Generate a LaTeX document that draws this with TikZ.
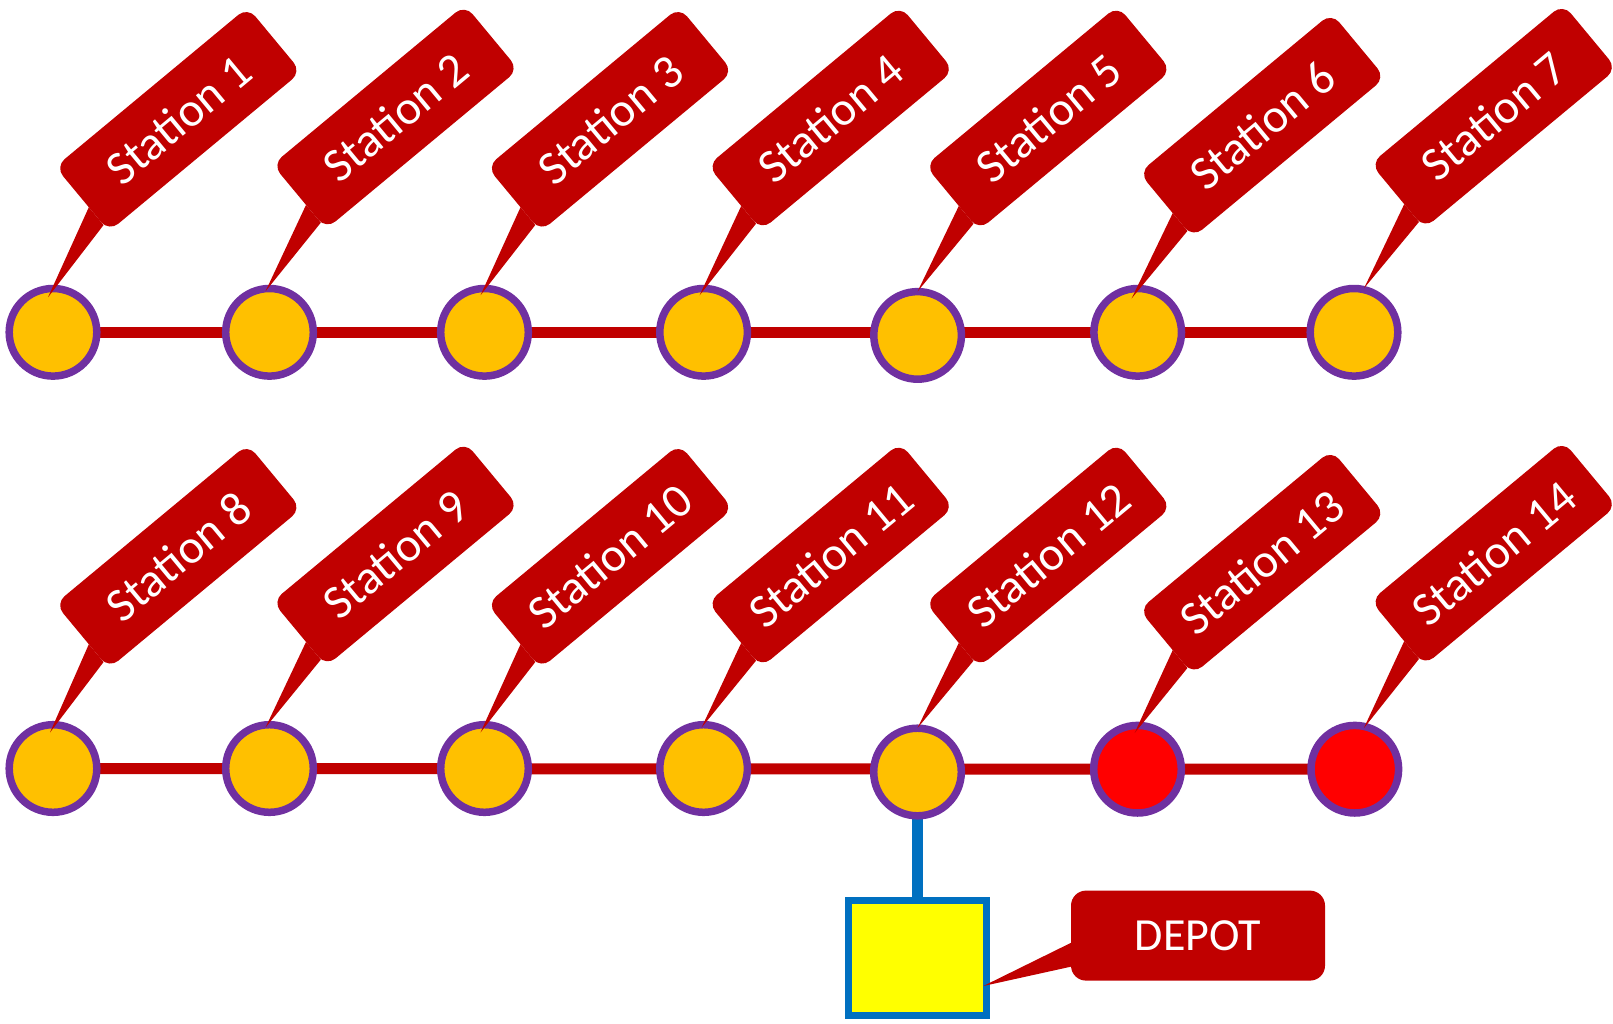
\documentclass[tikz,border=0pt]{standalone}
\usepackage{fontspec}
\setmainfont{Carlito}
\usetikzlibrary{calc,backgrounds}

\definecolor{calloutred}{HTML}{C00000}
\definecolor{ringpurple}{HTML}{7030A0}
\definecolor{stationamber}{HTML}{FFC000}
\definecolor{alertred}{HTML}{FF0000}
\definecolor{depotblue}{HTML}{0070C0}
\definecolor{depotyellow}{HTML}{FFFF00}

\begin{document}
\begin{tikzpicture}[x=1pt,y=1pt,
  station/.style={circle, draw=ringpurple, fill=stationamber, line width=7.5pt,
    minimum size=87.6pt, inner sep=0pt, outer sep=0pt},
  alert/.style={station, fill=alertred},
  labelbox/.style={fill=calloutred, text=white, inner sep=0pt, outer sep=0pt},
  callout/.style={labelbox, rotate=39.7, rounded corners=12pt,
    minimum width=250pt, minimum height=84pt, font=\fontsize{48}{56}\selectfont},
  depotlabel/.style={labelbox, rounded corners=15pt,
    minimum width=254pt, minimum height=90pt, font=\fontsize{46}{54}\selectfont},
  tail/.style={fill=calloutred},
  railway/.style={draw=calloutred, line width=11pt},
  spur/.style={draw=depotblue, line width=11pt},
  depotbox/.style={rectangle, draw=depotblue, fill=depotyellow, line width=7.3pt,
    minimum width=137.6pt, minimum height=115pt, inner sep=0pt, outer sep=0pt}
]
\useasboundingbox (0,0) rectangle (1613,-1023);

% stations of both lines
\foreach \i/\kind/\x/\y in {
  1/station/53/332.3, 2/station/269.5/332.3, 3/station/484.5/332.3,
  4/station/703.6/332.3, 5/station/917.6/335.4, 6/station/1137.7/332.3,
  7/station/1354/332.3,
  8/station/53/768.5, 9/station/269.5/768.5, 10/station/484.5/768.5,
  11/station/703.6/768.5, 12/station/917.5/772, 13/alert/1137.5/769.2,
  14/alert/1354.8/769.2}
  \node[\kind] (st\i) at (\x,-\y) {};

% depot
\node[depotbox] (depotsq) at (917.5,-958) {};

% track and spur behind the stations
\begin{scope}[on background layer]
  \draw[railway] (st1.center) -- (st7.center);
  \draw[railway] (st8.center) -- (st14.center);
  \draw[spur] (st12.center) -- (depotsq.center);
\end{scope}

% station callouts
\foreach \i/\lx/\ly/\tx/\ty in {
  1/178.3/119.3/-5/35, 2/395.5/117/-4/41, 3/610/119.3/-4/37,
  4/830.7/118/-4/37, 5/1048.3/118/0/44, 6/1262.2/125.2/-6/34,
  7/1493.7/116.2/10/44,
  8/178.3/556.3/-3/36, 9/395.5/554/-4/41, 10/610/556.3/-4/36,
  11/830.7/555/-2/41, 12/1048.3/555/0/44, 13/1262.2/562.2/-3/36,
  14/1493.7/553.2/9/41}
{
  \node[callout] (lab\i) at (\lx,-\ly) {Station \i};
  \coordinate (tip\i) at ($(st\i.center)+(\tx,\ty)$);
  \fill[tail] ($(lab\i.west)!0.25!(lab\i.south west)$)
    -- ($(lab\i.west)!0.8!(lab\i.south west)$) -- (tip\i) -- cycle;
}

% depot callout
\node[depotlabel] (depotlab) at (1198,-935.6) {DEPOT};
\coordinate (depottip) at ($(depotsq.east)+(-3,-28)$);
\fill[tail] ($(depotlab.west)!0.16!(depotlab.south west)$)
  -- ($(depotlab.west)!0.69!(depotlab.south west)$) -- (depottip) -- cycle;
\end{tikzpicture}
\end{document}
